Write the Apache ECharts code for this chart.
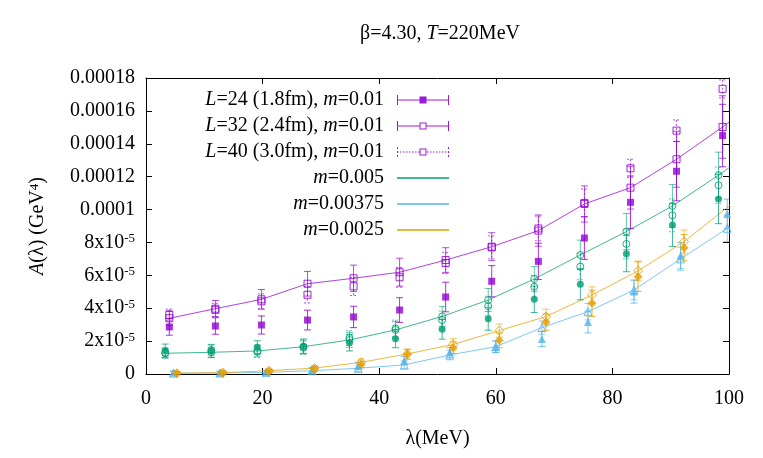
<!DOCTYPE html>
<html>
<head>
<meta charset="utf-8">
<script src="https://cdn.jsdelivr.net/npm/echarts@6/dist/echarts.min.js"></script>
<style>
  html, body { margin: 0; padding: 0; background: #fff; }
  #chart { width: 763px; height: 458px; }
</style>
</head>
<body>
<div id="chart"></div>
<script>
// values on the y axis are in units of 1e-5 GeV^4
var X_TICKS = [0, 20, 40, 60, 80, 100];
var Y_TICKS = [0, 2, 4, 6, 8, 10, 12, 14, 16, 18];

// m = 0.01
var lam_m01 = [4.0, 11.9, 19.8, 27.7, 35.6, 43.5, 51.4, 59.3, 67.3, 75.2, 83.1, 91.0, 98.9];
var l24_m01 = [2.86, 2.92, 2.98, 3.28, 3.47, 3.89, 4.68, 5.64, 6.85, 8.27, 10.44, 12.33, 14.5];
var l24_m01_err = [0.5, 0.5, 0.55, 0.6, 0.65, 0.75, 0.9, 0.95, 1.1, 1.3, 1.6, 1.8, 1.9];
var l32_m01 = [3.39, 3.97, 4.54, 5.49, 5.82, 6.19, 6.93, 7.74, 8.72, 10.34, 11.33, 13.06, 15.02];
var l32_m01_err = [0.45, 0.5, 0.6, 0.75, 0.8, 0.85, 0.75, 0.85, 0.95, 1.1, 1.3, 1.7, 1.9];
var l40_m01 = [3.59, 3.9, 4.42, 4.82, 5.33, 5.88, 6.75, 7.7, 8.85, 10.4, 12.51, 14.8, 17.34];
var l40_m01_err = [0.35, 0.4, 0.45, 0.5, 0.55, 0.6, 0.65, 0.7, 0.75, 0.85, 0.55, 0.65, 0.55];
var tail_m01 = [106.8, 17.1];

// m = 0.005
var lam_m005 = [3.3, 11.2, 19.1, 27.0, 34.9, 42.8, 50.8, 58.7, 66.6, 74.5, 82.4, 90.3, 98.2];
var l24_m005 = [1.42, 1.40, 1.62, 1.68, 1.90, 2.15, 2.72, 3.36, 4.54, 5.46, 7.32, 9.06, 10.64];
var l24_m005_err = [0.4, 0.4, 0.4, 0.45, 0.5, 0.55, 0.6, 0.7, 0.8, 0.95, 1.1, 1.3, 1.5];
var l32_m005 = [1.26, 1.32, 1.40, 1.66, 2.07, 2.68, 3.50, 4.50, 5.78, 7.24, 8.66, 10.22, 12.09];
var l32_m005_err = [0.3, 0.3, 0.35, 0.4, 0.45, 0.5, 0.6, 0.7, 0.75, 0.9, 1.1, 1.3, 1.4];
var l40_m005 = [1.3, 1.45, 1.35, 1.6, 2.19, 2.78, 3.28, 4.13, 5.31, 6.53, 7.91, 9.65, 11.48];
var l40_m005_err = [0.3, 0.3, 0.35, 0.4, 0.45, 0.5, 0.55, 0.6, 0.7, 0.8, 0.9, 1.0, 1.1];
var tail_m005 = [106.1, 14.1];

// m = 0.00375
var lam_m00375 = [4.7, 12.7, 20.6, 28.5, 36.4, 44.3, 52.1, 60.0, 67.9, 75.8, 83.7, 91.7, 99.7];
var l24_m00375 = [0.08, 0.08, 0.10, 0.24, 0.49, 0.81, 1.32, 1.66, 2.13, 3.16, 5.01, 7.2, 9.73];
var l24_m00375_err = [0.1, 0.1, 0.12, 0.15, 0.2, 0.25, 0.3, 0.35, 0.46, 0.66, 0.7, 0.8, 0.9];
var l32_m00375 = [0.05, 0.06, 0.1, 0.2, 0.35, 0.55, 1.16, 1.66, 2.82, 3.79, 5.11, 7.0, 8.86];
var l32_m00375_err = [0.1, 0.1, 0.1, 0.15, 0.2, 0.25, 0.3, 0.35, 0.4, 0.5, 0.6, 0.7, 0.8];
var tail_m00375 = [107.6, 10.8];

// m = 0.0025
var lam_m0025 = [5.3, 13.2, 21.1, 28.9, 36.9, 44.8, 52.7, 60.6, 68.6, 76.5, 84.4, 92.3];
var l24_m0025 = [0.04, 0.06, 0.16, 0.3, 0.59, 1.2, 1.6, 2.05, 3.16, 4.3, 5.92, 7.68];
var l24_m0025_err = [0.1, 0.1, 0.12, 0.15, 0.2, 0.3, 0.35, 0.45, 0.5, 0.8, 0.9, 0.8];
var l32_m0025 = [0.05, 0.08, 0.2, 0.36, 0.71, 1.22, 1.8, 2.64, 3.49, 4.8, 6.27, 8.05];
var l32_m0025_err = [0.1, 0.1, 0.1, 0.15, 0.2, 0.3, 0.35, 0.4, 0.45, 0.5, 0.6, 0.7];
var tail_m0025 = [100.3, 10.3];

var SERIF = '"Liberation Serif", "DejaVu Serif", serif';
var FS = 20;
var PURPLE = '#9400d3', GREEN = '#009e73', BLUE = '#56b4e9', ORANGE = '#e69f00';

var NAME_L24 = 'L=24 (1.8fm), m=0.01';
var NAME_L32 = 'L=32 (2.4fm), m=0.01';
var NAME_L40 = 'L=40 (3.0fm), m=0.01';

function zip(xs, ys) {
	return xs.map(function (x, i) { return [x, ys[i]]; });
}

function errorBars(xs, ys, errs, color, dashed, opacity) {
	return {
		type: 'custom',
		clip: true,
		silent: true,
		z: 2,
		data: xs.map(function (x, i) { return [x, ys[i], errs[i]]; }),
		encode: { x: 0, y: 1 },
		renderItem: function (params, api) {
			var x = api.value(0), y = api.value(1), e = api.value(2);
			var top = api.coord([x, y + e]);
			var bot = api.coord([x, y - e]);
			var cap = 3.5;
			var style = { stroke: color, lineWidth: 1, opacity: opacity, lineDash: dashed ? [2, 2] : null };
			return {
				type: 'group',
				children: [
					{ type: 'line', shape: { x1: top[0], y1: top[1], x2: bot[0], y2: bot[1] }, style: style },
					{ type: 'line', shape: { x1: top[0] - cap, y1: top[1], x2: top[0] + cap, y2: top[1] }, style: style },
					{ type: 'line', shape: { x1: bot[0] - cap, y1: bot[1], x2: bot[0] + cap, y2: bot[1] }, style: style }
				]
			};
		}
	};
}

function points(name, xs, ys, symbol, size, color, open) {
	return {
		name: name,
		type: 'scatter',
		symbol: symbol,
		symbolSize: size,
		z: 3,
		data: zip(xs, ys),
		itemStyle: open
			? { color: 'rgba(255,255,255,0)', borderColor: color, borderWidth: 1, opacity: 0.85 }
			: { color: color }
	};
}

function curve(name, xs, ys, tail, color) {
	var d = zip(xs, ys);
	d.push(tail);
	return {
		name: name,
		type: 'line',
		symbol: 'none',
		clip: true,
		z: 1,
		data: d,
		lineStyle: { color: color, width: 1, opacity: 0.75 },
		itemStyle: { color: color }
	};
}

// legend icons: |--[]--| style error bar symbols
var CAPS = 'M0,0H1V10H0Z M51,0H52V10H51Z ';
var ICON_FILLED = 'path://' + CAPS + 'M0,4.5H52V5.5H0Z M22.5,1.5H29.5V8.5H22.5Z';
var OPEN_BOX = 'M22.5,1.5H29.5V2.5H22.5Z M22.5,7.5H29.5V8.5H22.5Z M22.5,1.5H23.5V8.5H22.5Z M28.5,1.5H29.5V8.5H28.5Z';
var ICON_OPEN = 'path://' + CAPS + 'M0,4.5H22.5V5.5H0Z M29.5,4.5H52V5.5H29.5Z ' + OPEN_BOX;
var dash = 'M0,0H1V2H0Z M0,4H1V6H0Z M0,8H1V10H0Z M51,0H52V2H51Z M51,4H52V6H51Z M51,8H52V10H51Z ';
for (var k = 0; k < 22; k += 3) dash += 'M' + k + ',4.5H' + (k + 1.5) + 'V5.5H' + k + 'Z ';
for (var k2 = 30; k2 < 52; k2 += 3) dash += 'M' + k2 + ',4.5H' + Math.min(k2 + 1.5, 52) + 'V5.5H' + k2 + 'Z ';
var ICON_DASHED = 'path://' + dash + OPEN_BOX;

var legendStyle = { color: PURPLE, borderColor: PURPLE, borderWidth: 0, opacity: 0.9 };
var hideSymbol = { opacity: 0 };

var chart = echarts.init(document.getElementById('chart'));

var axisBase = {
	type: 'value',
	axisLine: { show: true, onZero: false, lineStyle: { color: '#000', width: 1 } },
	axisTick: { show: true, inside: true, length: 6, lineStyle: { color: '#000' } },
	splitLine: { show: false }
};

var option = {
	animation: false,
	backgroundColor: '#fff',
	title: {
		text: '\u03b2=4.30, {i|T}=220MeV',
		left: 360,
		top: 24,
		padding: 0,
		textStyle: {
			fontFamily: SERIF, fontSize: FS, fontWeight: 'normal', color: '#000',
			rich: { i: { fontFamily: SERIF, fontSize: FS, fontStyle: 'italic', color: '#000' } }
		}
	},
	grid: { left: 146, right: 34, top: 78, bottom: 84, containLabel: false },
	legend: {
		orient: 'vertical',
		align: 'right',
		right: 308,
		top: 84,
		padding: 5,
		itemWidth: 52,
		itemHeight: 10,
		itemGap: 4,
		selectedMode: false,
		formatter: function (name) {
			return name.replace(/(L|m)=/g, '{i|$1}=');
		},
		textStyle: {
			fontFamily: SERIF, fontSize: FS, color: '#000', lineHeight: 22, padding: [0, 8, 0, 0],
			rich: { i: { fontFamily: SERIF, fontSize: FS, fontStyle: 'italic', color: '#000', lineHeight: 22 } }
		},
		data: [
			{ name: NAME_L24, icon: ICON_FILLED, itemStyle: legendStyle },
			{ name: NAME_L32, icon: ICON_OPEN, itemStyle: legendStyle },
			{ name: NAME_L40, icon: ICON_DASHED, itemStyle: legendStyle },
			{ name: 'm=0.005', itemStyle: hideSymbol },
			{ name: 'm=0.00375', itemStyle: hideSymbol },
			{ name: 'm=0.0025', itemStyle: hideSymbol }
		]
	},
	xAxis: [
		Object.assign({}, axisBase, {
			position: 'bottom', min: X_TICKS[0], max: X_TICKS[X_TICKS.length - 1], interval: 20,
			axisLabel: { margin: 15, fontFamily: SERIF, fontSize: FS, color: '#000' },
			name: '\u03bb(MeV)', nameLocation: 'middle', nameGap: 55,
			nameTextStyle: { fontFamily: SERIF, fontSize: FS, color: '#000' }
		}),
		Object.assign({}, axisBase, {
			position: 'top', min: X_TICKS[0], max: X_TICKS[X_TICKS.length - 1], interval: 20,
			axisLabel: { show: false }
		})
	],
	yAxis: [
		Object.assign({}, axisBase, {
			position: 'left', min: Y_TICKS[0], max: Y_TICKS[Y_TICKS.length - 1], interval: 2,
			axisLabel: {
				margin: 11, fontFamily: SERIF, fontSize: FS, color: '#000',
				formatter: function (v) {
					if (v === 0) return '0';
					if (v >= 10) return (v * 1e-5).toFixed(5).replace(/0+$/, '');
					return v + 'x10{sup|-5}';
				},
				rich: { sup: { fontFamily: SERIF, fontSize: 13, color: '#000', verticalAlign: 'top', lineHeight: 13 } }
			},
			name: '{i|A}(\u03bb) (GeV{sup|4})', nameLocation: 'middle', nameGap: 98, nameRotate: 90,
			nameTextStyle: {
				fontFamily: SERIF, fontSize: FS, color: '#000',
				rich: {
					i: { fontFamily: SERIF, fontSize: FS, fontStyle: 'italic', color: '#000' },
					sup: { fontFamily: SERIF, fontSize: 13, color: '#000', verticalAlign: 'top' }
				}
			}
		}),
		Object.assign({}, axisBase, {
			position: 'right', min: Y_TICKS[0], max: Y_TICKS[Y_TICKS.length - 1], interval: 2,
			axisLabel: { show: false }
		})
	],
	series: [
		// lines through the L=32 points
		curve('line m=0.01', lam_m01, l32_m01, tail_m01, PURPLE),
		curve('m=0.005', lam_m005, l32_m005, tail_m005, GREEN),
		curve('m=0.00375', lam_m00375, l32_m00375, tail_m00375, BLUE),
		curve('m=0.0025', lam_m0025, l32_m0025, tail_m0025, ORANGE),

		errorBars(lam_m01, l24_m01, l24_m01_err, PURPLE, false, 0.8),
		errorBars(lam_m01, l32_m01, l32_m01_err, PURPLE, false, 0.7),
		errorBars(lam_m01, l40_m01, l40_m01_err, PURPLE, true, 0.7),
		errorBars(lam_m005, l24_m005, l24_m005_err, GREEN, false, 0.75),
		errorBars(lam_m005, l32_m005, l32_m005_err, GREEN, false, 0.6),
		errorBars(lam_m005, l40_m005, l40_m005_err, GREEN, true, 0.6),
		errorBars(lam_m00375, l24_m00375, l24_m00375_err, BLUE, false, 0.8),
		errorBars(lam_m00375, l32_m00375, l32_m00375_err, BLUE, false, 0.6),
		errorBars(lam_m0025, l24_m0025, l24_m0025_err, ORANGE, false, 0.8),
		errorBars(lam_m0025, l32_m0025, l32_m0025_err, ORANGE, false, 0.6),

		points(NAME_L24, lam_m01, l24_m01, 'rect', 7, PURPLE, false),
		points(NAME_L32, lam_m01, l32_m01, 'rect', 7, PURPLE, true),
		points(NAME_L40, lam_m01, l40_m01, 'rect', 7, PURPLE, true),
		points('L24 m=0.005', lam_m005, l24_m005, 'circle', 7, GREEN, false),
		points('L32 m=0.005', lam_m005, l32_m005, 'circle', 7, GREEN, true),
		points('L40 m=0.005', lam_m005, l40_m005, 'circle', 7, GREEN, true),
		points('L24 m=0.00375', lam_m00375, l24_m00375, 'triangle', 8, BLUE, false),
		points('L32 m=0.00375', lam_m00375, l32_m00375, 'triangle', 8, BLUE, true),
		points('L24 m=0.0025', lam_m0025, l24_m0025, 'diamond', 9, ORANGE, false),
		points('L32 m=0.0025', lam_m0025, l32_m0025, 'diamond', 9, ORANGE, true)
	]
};

chart.setOption(option);
</script>
</body>
</html>
